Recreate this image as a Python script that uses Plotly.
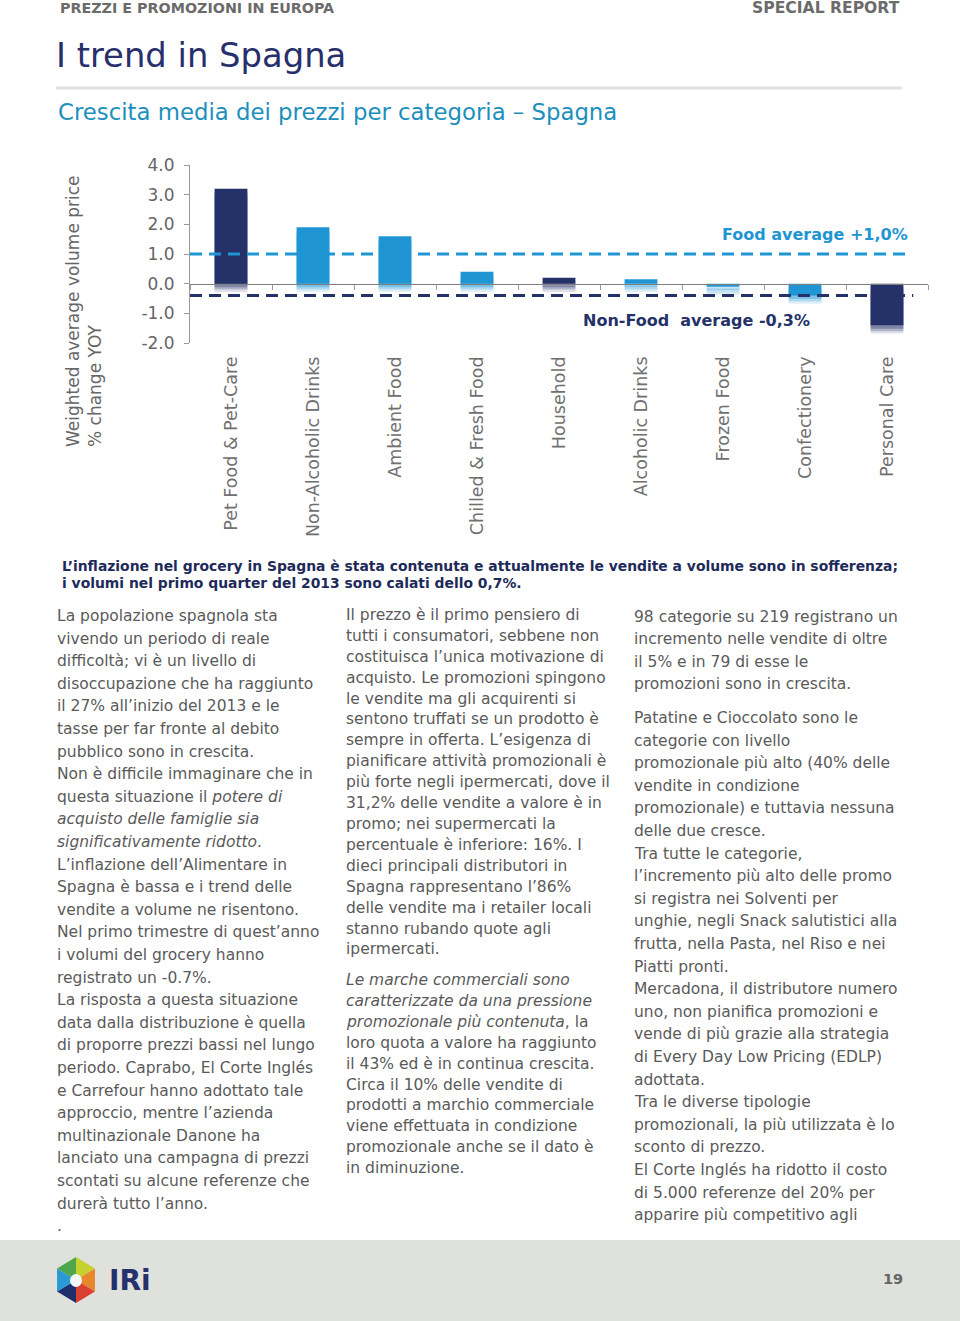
import math
import plotly.graph_objects as go

W, H = 960, 1321

# ---------------- data ----------------
categories = ["Pet Food & Pet-Care", "Non-Alcoholic Drinks", "Ambient Food",
              "Chilled & Fresh Food", "Household", "Alcoholic Drinks",
              "Frozen Food", "Confectionery", "Personal Care"]
price_change = [3.2, 1.9, 1.6, 0.4, 0.2, 0.15, -0.1, -0.4, -1.4]
is_non_food = [True, False, False, False, True, False, False, False, True]
food_avg = 1.0
non_food_avg = -0.4
y_ticks = [4.0, 3.0, 2.0, 1.0, 0.0, -1.0, -2.0]

NAVY = "#253169"
LIGHT = "#1f96d3"
GRAY_TXT = "#666666"
BODY = "#5a5a5a"


def px(x):
    return x / W


def py(y):
    return 1 - y / H


colors = [NAVY if nf else LIGHT for nf in is_non_food]
idx = list(range(len(categories)))

fig = go.Figure()

# soft shadow under bars (layers to fake a blur)
for off, op in [(0.28, 0.15), (0.2, 0.25), (0.12, 0.35)]:
    sh_base = [min(0, v) - off for v in price_change]
    sh_len = [abs(v) for v in price_change]
    fig.add_trace(go.Bar(x=idx, y=sh_len, base=sh_base, width=0.4,
                         marker=dict(color=colors, opacity=op, line=dict(width=0)),
                         hoverinfo="skip", showlegend=False))
fig.add_trace(go.Bar(x=idx, y=price_change, width=0.4,
                     marker=dict(color=colors, line=dict(width=0)),
                     showlegend=False))

# average lines
fig.add_trace(go.Scatter(x=[-0.5, 8.22], y=[food_avg, food_avg], mode="lines",
                         line=dict(color=LIGHT, width=3, dash="12px,7px"),
                         showlegend=False, hoverinfo="skip"))
fig.add_trace(go.Scatter(x=[-0.5, 8.32], y=[non_food_avg, non_food_avg], mode="lines",
                         line=dict(color=NAVY, width=3, dash="12px,7px"),
                         showlegend=False, hoverinfo="skip"))

# invisible trace for zero-line axis
fig.add_trace(go.Scatter(x=[-0.5, 8.5], y=[0, 0], xaxis="x2", mode="lines",
                         line=dict(width=0), showlegend=False, hoverinfo="skip"))

ydom = [py(343), py(165)]
xdom = [px(190), px(928)]
zero_pos = ydom[0] + (ydom[1] - ydom[0]) * (0 - (-2)) / 6

fig.update_layout(
    width=W, height=H,
    margin=dict(l=0, r=0, t=0, b=0, pad=0, autoexpand=False),
    paper_bgcolor="white", plot_bgcolor="white",
    font=dict(family="DejaVu Sans, Verdana, sans-serif", color=GRAY_TXT),
    barmode="overlay",
    xaxis=dict(domain=xdom, range=[-0.5, 8.5], tickmode="array", tickvals=idx,
               ticktext=categories, tickangle=-90, showline=False, ticks="",
               showgrid=False, zeroline=False, tickfont=dict(size=17.5, color="#707070"),
               ticklabelstandoff=9, anchor="y", automargin=False),
    xaxis2=dict(domain=xdom, range=[-0.5, 8.5], overlaying="x", anchor="free",
                position=zero_pos, showline=True, linecolor="#7f7f7f", linewidth=1,
                ticks="outside", ticklen=5, tickcolor="#9a9a9a",
                tickmode="array", tickvals=[i - 0.5 for i in range(len(categories) + 1)],
                showticklabels=False, showgrid=False, zeroline=False, automargin=False),
    yaxis=dict(domain=ydom, range=[-2, 4], tickmode="array", tickvals=y_ticks,
               ticktext=[f"{v:.1f}" for v in y_ticks], showline=True,
               linecolor="#9a9a9a", linewidth=1, ticks="outside", ticklen=5,
               tickcolor="#9a9a9a", showgrid=False, zeroline=False,
               tickfont=dict(size=17, color=GRAY_TXT), ticklabelstandoff=6,
               automargin=False),
)

ann = []
shapes = []


def text(x, y, s, size, color, bold=False, anchor="left", yanchor="middle", angle=0):
    ann.append(dict(x=px(x), y=py(y), xref="paper", yref="paper",
                    text=(f"<b>{s}</b>" if bold else s),
                    showarrow=False, xanchor=anchor, yanchor=yanchor,
                    font=dict(size=size, color=color), align="left", textangle=angle))


# header
text(58, 8, "PREZZI E PROMOZIONI IN EUROPA", 14.3, "#6b6b6b", bold=True)
text(902, 8, "SPECIAL REPORT", 15.6, "#6b6b6b", bold=True, anchor="right")
text(54, 56, "I trend in Spagna", 33.8, "#27306b")
shapes.append(dict(type="line", xref="paper", yref="paper", x0=px(56), x1=px(902),
                   y0=py(88), y1=py(88), line=dict(color="#e1e1e1", width=3)))
text(56, 112, "Crescita media dei prezzi per categoria \u2013 Spagna", 22.8, "#1d8fbd")

# chart annotations
text(84, 311, "Weighted average volume price<br>% change YOY", 17, GRAY_TXT,
     anchor="center", angle=-90)
text(910, 235, "Food average +1,0%", 16, LIGHT, bold=True, anchor="right")
text(812, 321, "Non-Food  average -0,3%", 16, NAVY, bold=True, anchor="right")

# bold intro
intro = ["L\u2019inflazione nel grocery in Spagna \u00e8 stata contenuta e attualmente le vendite a volume sono in sofferenza;",
         "i volumi nel primo quarter del 2013 sono calati dello 0,7%."]
for i, s in enumerate(intro):
    text(60, 566 + i * 17, s, 13.9, "#1e2a5a", bold=True)

col1 = ["La popolazione spagnola sta",
        "vivendo un periodo di reale",
        "difficolt\u00e0; vi \u00e8 un livello di",
        "disoccupazione che ha raggiunto",
        "il 27% all\u2019inizio del 2013 e le",
        "tasse per far fronte al debito",
        "pubblico sono in crescita.",
        "Non \u00e8 difficile immaginare che in",
        "questa situazione il <i>potere di</i>",
        "<i>acquisto delle famiglie sia</i>",
        "<i>significativamente ridotto</i>.",
        "L\u2019inflazione dell\u2019Alimentare in",
        "Spagna \u00e8 bassa e i trend delle",
        "vendite a volume ne risentono.",
        "Nel primo trimestre di quest\u2019anno",
        "i volumi del grocery hanno",
        "registrato un -0.7%.",
        "La risposta a questa situazione",
        "data dalla distribuzione \u00e8 quella",
        "di proporre prezzi bassi nel lungo",
        "periodo. Caprabo, El Corte Ingl\u00e9s",
        "e Carrefour hanno adottato tale",
        "approccio, mentre l\u2019azienda",
        "multinazionale Danone ha",
        "lanciato una campagna di prezzi",
        "scontati su alcune referenze che",
        "durer\u00e0 tutto l\u2019anno.",
        "."]
col2a = ["Il prezzo \u00e8 il primo pensiero di",
         "tutti i consumatori, sebbene non",
         "costituisca l\u2019unica motivazione di",
         "acquisto. Le promozioni spingono",
         "le vendite ma gli acquirenti si",
         "sentono truffati se un prodotto \u00e8",
         "sempre in offerta. L\u2019esigenza di",
         "pianificare attivit\u00e0 promozionali \u00e8",
         "pi\u00f9 forte negli ipermercati, dove il",
         "31,2% delle vendite a valore \u00e8 in",
         "promo; nei supermercati la",
         "percentuale \u00e8 inferiore: 16%. I",
         "dieci principali distributori in",
         "Spagna rappresentano l\u201986%",
         "delle vendite ma i retailer locali",
         "stanno rubando quote agli",
         "ipermercati."]
col2b = ["<i>Le marche commerciali sono</i>",
         "<i>caratterizzate da una pressione</i>",
         "<i>promozionale pi\u00f9 contenuta</i>, la",
         "loro quota a valore ha raggiunto",
         "il 43% ed \u00e8 in continua crescita.",
         "Circa il 10% delle vendite di",
         "prodotti a marchio commerciale",
         "viene effettuata in condizione",
         "promozionale anche se il dato \u00e8",
         "in diminuzione."]
col3a = ["98 categorie su 219 registrano un",
         "incremento nelle vendite di oltre",
         "il 5% e in 79 di esse le",
         "promozioni sono in crescita."]
col3b = ["Patatine e Cioccolato sono le",
         "categorie con livello",
         "promozionale pi\u00f9 alto (40% delle",
         "vendite in condizione",
         "promozionale) e tuttavia nessuna",
         "delle due cresce.",
         "Tra tutte le categorie,",
         "l\u2019incremento pi\u00f9 alto delle promo",
         "si registra nei Solventi per",
         "unghie, negli Snack salutistici alla",
         "frutta, nella Pasta, nel Riso e nei",
         "Piatti pronti.",
         "Mercadona, il distributore numero",
         "uno, non pianifica promozioni e",
         "vende di pi\u00f9 grazie alla strategia",
         "di Every Day Low Pricing (EDLP)",
         "adottata.",
         "Tra le diverse tipologie",
         "promozionali, la pi\u00f9 utilizzata \u00e8 lo",
         "sconto di prezzo.",
         "El Corte Ingl\u00e9s ha ridotto il costo",
         "di 5.000 referenze del 20% per",
         "apparire pi\u00f9 competitivo agli"]

BODY_SIZE = 15.5
for block, x0, y0, step in [(col1, 55, 616, 22.6), (col2a, 344, 615, 20.9),
                            (col2b, 344, 980, 20.9), (col3a, 632, 617, 22.4),
                            (col3b, 632, 718, 22.6)]:
    for i, s in enumerate(block):
        text(x0, y0 + i * step, s, BODY_SIZE, BODY)

# footer
shapes.append(dict(type="rect", xref="paper", yref="paper", x0=0, x1=1, y0=0, y1=py(1240),
                   fillcolor="#dfe1dd", line=dict(width=0), layer="below"))
cx, cy, R = 76, 1280, 23
verts = []
for k in range(6):
    a = math.radians(90 - 60 * k)
    verts.append((cx + R * math.cos(a) * 0.95, cy - R * math.sin(a)))
logo_cols = ["#c4d12f", "#e8882a", "#d8412f", "#1f2f6e", "#2a9ad6", "#4ea64a"]
for k in range(6):
    p1 = verts[k]
    p2 = verts[(k + 1) % 6]
    path = (f"M {px(cx)},{py(cy)} L {px(p1[0])},{py(p1[1])} "
            f"L {px(p2[0])},{py(p2[1])} Z")
    shapes.append(dict(type="path", xref="paper", yref="paper", path=path,
                       fillcolor=logo_cols[k], line=dict(width=0)))
shapes.append(dict(type="circle", xref="paper", yref="paper",
                   x0=px(cx - 6), x1=px(cx + 6), y0=py(cy + 7), y1=py(cy - 6),
                   fillcolor="#f3f6f8", line=dict(width=0)))
text(107, 1280, "IRi", 28, "#26306b", bold=True)
text(893, 1279, "19", 14.5, "#666666", bold=True, anchor="center")

fig.update_layout(annotations=ann, shapes=shapes)
fig.write_html("out.html", config={"displayModeBar": False},
               post_script="document.body.style.margin='0';document.body.style.padding='0';"
                           "document.documentElement.style.overflow='hidden';")
